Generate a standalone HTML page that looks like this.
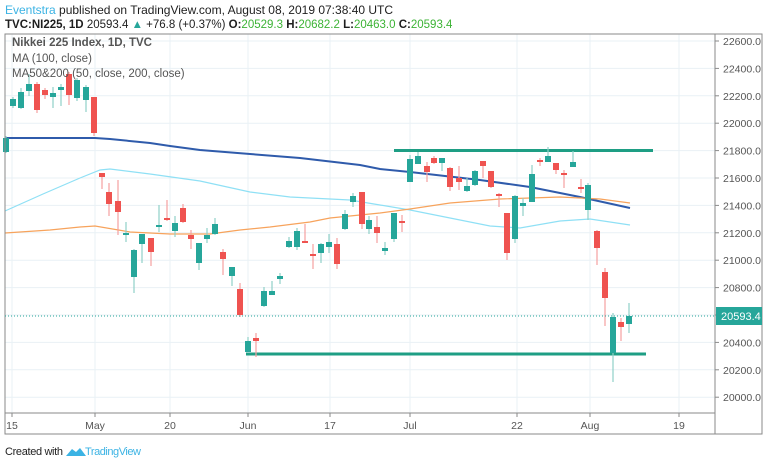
<!DOCTYPE html>
<html><head><meta charset="utf-8"><style>
body{margin:0;background:#fff;width:768px;height:464px;overflow:hidden;font-family:"Liberation Sans",sans-serif}
</style></head><body>
<svg id="s" width="768" height="464" xmlns="http://www.w3.org/2000/svg" font-family="Liberation Sans, sans-serif">
<text x="5" y="14" font-size="12" fill="#1e1e1e"><tspan fill="#3bb3e4">Eventstra</tspan> published on TradingView.com, August 08, 2019 07:38:40 UTC</text>
<text x="5" y="28" font-size="11.5" fill="#1e1e1e" font-weight="bold">TVC:NI225, 1D <tspan font-weight="normal">20593.4 </tspan><tspan fill="#26a69a">▲</tspan><tspan font-weight="normal"> +76.8 (+0.37%) </tspan>O:<tspan fill="#3cb335" font-weight="normal">20529.3 </tspan>H:<tspan fill="#3cb335" font-weight="normal">20682.2 </tspan>L:<tspan fill="#3cb335" font-weight="normal">20463.0 </tspan>C:<tspan fill="#3cb335" font-weight="normal">20593.4</tspan></text>
<g id="grid" stroke="#e9f1f5" stroke-width="1"></g>
<g id="ma"></g>
<g id="c"></g>
<rect x="5" y="34" width="757" height="400" fill="none" stroke="#8a8a8a"/>
<line x1="715" y1="34" x2="715" y2="434" stroke="#8a8a8a"/>
<line x1="5" y1="413" x2="715" y2="413" stroke="#8a8a8a"/>
<text x="12" y="46" font-size="11.5" font-weight="bold" fill="#555">Nikkei 225 Index, 1D, TVC</text>
<text x="12" y="62" font-size="11.5" fill="#555">MA (100, close)</text>
<text x="12" y="77" font-size="11.5" fill="#555">MA50&amp;200 (50, close, 200, close)</text>
<g id="yl" font-size="10.5" fill="#555"></g>
<g id="xl" font-size="10.5" fill="#555"></g>
<line x1="5" y1="316" x2="715" y2="316" stroke="#26a69a" stroke-dasharray="1,2"/>
<rect x="716" y="307" width="46" height="18" fill="#26a69a"/>
<text x="721" y="320" font-size="11" fill="#fff">20593.4</text>
<text x="5" y="455" font-size="11" fill="#222" textLength="58">Created with</text>
<path d="M66 456 l6 -7 l4 3 l4 -4 l6 8 z" fill="#3bb3e4"/>
<text x="85" y="455" font-size="11" fill="#3bb3e4" textLength="56">TradingView</text>
</svg>
<script>
var NS="http://www.w3.org/2000/svg";
function el(p,t,a,tx){var e=document.createElementNS(NS,t);for(var k in a)e.setAttribute(k,a[k]);if(tx)e.textContent=tx;document.getElementById(p).appendChild(e);}
var xs=[12,95,170,248,330,410,517,590,679],xn=["15","May","20","Jun","17","Jul","22","Aug","19"];
xs.forEach(function(x,i){el("grid","line",{x1:x,y1:34,x2:x,y2:413});el("xl","line",{x1:x,y1:413,x2:x,y2:417,stroke:"#8a8a8a"});el("xl","text",{x:x,y:429,"text-anchor":"middle"},xn[i]);});
for(var k=0;k<=13;k++){var y=41+k*27.4;var v=(22600-200*k).toFixed(1);el("grid","line",{x1:5,y1:y,x2:715,y2:y});el("yl","line",{x1:715,y1:y,x2:719,y2:y,stroke:"#8a8a8a"});el("yl","text",{x:723,y:y+4},v);}
function pl(pts,c,w){el("ma","polyline",{points:pts,fill:"none",stroke:c,"stroke-width":w});}
pl("5,138 95,138 110,139 150,143 170,146 200,150 250,154 300,158 360,165 380,169 410,172 480,180 530,187 580,197 630,208","#2f5bab",2);
pl("5,211 43,194 80,178 100,170 110,169 150,174 200,181 250,192 290,197 330,199 350,200 380,205 410,210 450,218 490,226 520,228 560,221 590,219 630,225","#8fe0f5",1.2);
pl("5,233 50,230 80,227 95,226 130,232 170,234 210,234 240,230 270,227 310,222 330,218 380,213 410,209 450,203 500,199 560,197 600,199 630,203","#f7a35c",1.2);
el("ma","line",{x1:394,y1:150.5,x2:653,y2:150.5,stroke:"#1e9e84","stroke-width":3});
el("ma","line",{x1:246,y1:354,x2:646,y2:354,stroke:"#1e9e84","stroke-width":3});
var C=[
[6,138,152,136,153,1],[13,99,106,97,108,1],[21,92,108,88,109,1],[29,84,91,74,96,1],[37,84,110,82,113,0],[45,90,95,88,99,0],[53,93,97,87,108,1],[61,87,90,84,106,1],[69,74,95,72,105,0],[77,80,98,78,101,1],[86,87,100,85,112,1],[94,97,133,97,136,0],
[102,173,177,173,189,0],[109,192,204,183,216,0],[118,201,212,180,235,0],[126,233,235,222,242,1],[134,250,277,249,293,1],[142,234,244,234,263,1],[151,238,252,238,266,0],[159,225,226,205,232,1],[167,218,219,200,221,0],[175,223,231,216,237,1],[183,208,222,204,223,0],[191,235,239,230,249,0],[199,243,263,243,270,1],[207,235,239,228,243,1],[215,224,234,218,235,1],[223,252,259,249,275,0],[232,267,276,267,286,1],[240,289,315,283,317,0],[248,341,352,337,353,1],[256,338,341,333,357,0],
[264,291,306,287,307,1],[272,291,295,281,295,1],[280,276,279,273,284,1],[289,241,247,237,248,1],[297,231,247,228,250,1],[305,241,242,224,243,0],[313,254,255,244,269,0],[321,244,253,243,263,1],[329,242,247,234,253,1],[337,244,264,238,269,0],[345,214,229,210,230,1],[353,196,202,193,207,1],[362,192,224,192,229,0],[369,220,229,216,234,1],[377,227,233,216,243,0],[385,248,251,242,255,1],[394,213,239,213,242,1],[402,221,222,215,232,0],
[410,159,182,155,182,1],[418,156,164,152,164,1],[427,166,172,162,182,0],[434,158,163,156,164,0],[442,158,163,158,171,1],[450,168,187,167,191,0],[459,178,182,166,190,0],[467,186,191,178,192,1],[475,171,185,170,186,1],[483,161,166,161,178,0],[491,171,187,171,188,0],[499,194,196,193,207,0],[507,213,253,213,260,0],[515,196,239,195,243,1],[523,203,206,198,216,1],[532,174,202,165,202,1],[540,160,162,158,166,0],[548,156,162,147,162,1],[556,163,170,163,174,0],[564,173,175,170,188,0],[573,162,167,151,167,1],[581,187,188,179,193,0],[588,185,210,183,220,1],[597,231,248,230,265,0],[605,272,298,268,326,0],[613,317,353,313,382,1],[621,322,327,318,341,0],[629,316,324,303,333,1]];
C.forEach(function(c){var col=c[5]?"#26a69a":"#ef5350",wc=c[5]?"#8fd0c8":"#f5a0a0";
el("c","line",{x1:c[0],y1:c[3],x2:c[0],y2:c[4],stroke:wc,"stroke-width":1.2});
el("c","rect",{x:c[0]-3,y:c[1],width:6,height:Math.max(2,c[2]-c[1]),fill:col});});
</script>
</body></html>
